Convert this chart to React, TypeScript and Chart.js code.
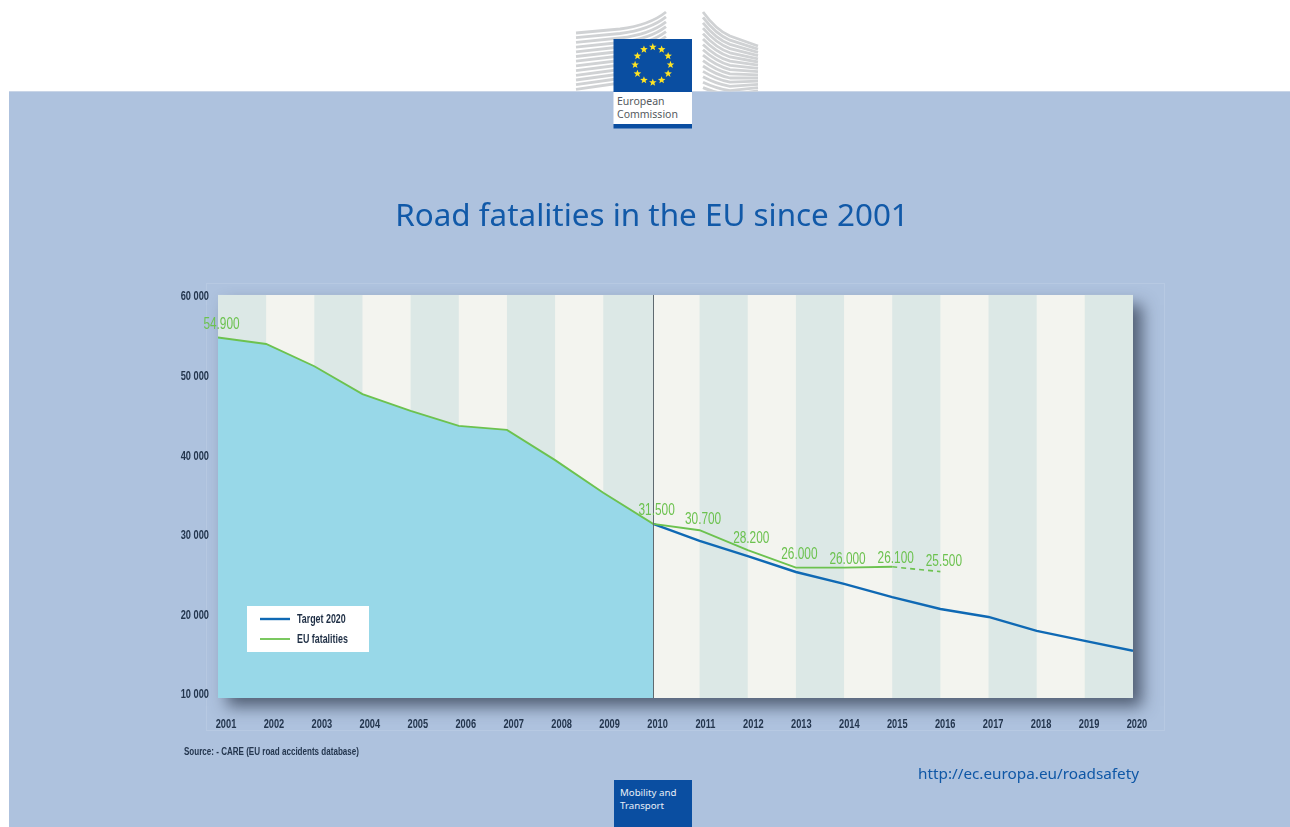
import React, { useEffect, useRef } from "react";
import { Chart, registerables } from "chart.js";

Chart.register(...registerables);

const years = [2001, 2002, 2003, 2004, 2005, 2006, 2007, 2008, 2009, 2010, 2011, 2012, 2013, 2014, 2015, 2016, 2017, 2018, 2019, 2020];
const yTicks = [10000, 20000, 30000, 40000, 50000, 60000];
const splitYear = 2010.035;
const areaYears = [2001, 2002, 2003, 2004, 2005, 2006, 2007, 2008, 2009, splitYear];
const areaValues = [54900, 54100, 51300, 47800, 45700, 43800, 43300, 39500, 35400, 31500];
const euYears = [2001, 2002, 2003, 2004, 2005, 2006, 2007, 2008, 2009, splitYear, 2011, 2012, 2013, 2014, 2015];
const euValues = [54900, 54100, 51300, 47800, 45700, 43800, 43300, 39500, 35400, 31500, 30700, 28200, 26000, 26000, 26100];
const provisionalYears = [2015, 2016];
const provisionalValues = [26100, 25500];
const targetYears = [splitYear, 2011, 2012, 2013, 2014, 2015, 2016, 2017, 2018, 2019, 2020];
const targetValues = [31500, 29350, 27450, 25450, 23950, 22300, 20800, 19800, 18050, 16800, 15550];
const labelYears = [2001, splitYear, 2011, 2012, 2013, 2014, 2015, 2016];
const labelValues = [54900, 31500, 30700, 28200, 26000, 26000, 26100, 25500];
const labelTexts = ["54.900", "31.500", "30.700", "28.200", "26.000", "26.000", "26.100", "25.500"];
const legendNames = ["Target 2020", "EU fatalities"];

const BLUE = "#0f69b4";
const GREEN = "#6cc24f";
const NARROW = "'Liberation Sans', sans-serif";
const SQUEEZE = 0.74;

const decor = {
  id: "decor",
  beforeInit(chart: any) {
    // The reference type is condensed: squeeze the narrow family horizontally.
    const ctx = chart.ctx;
    const orig = ctx.fillText.bind(ctx);
    ctx.fillText = (t: string, x: number, y: number, m?: number) => {
      if (!String(ctx.font).includes("Liberation Sans")) return orig(t, x, y, m);
      ctx.save();
      ctx.translate(x, y);
      ctx.scale(SQUEEZE, 1);
      orig(t, 0, 0);
      ctx.restore();
    };
  },
  beforeDatasetsDraw(chart: any) {
    const { ctx, chartArea: a, scales } = chart;
    const x = scales.x;
    ctx.save();
    ctx.shadowColor = "rgba(45,55,75,0.72)";
    ctx.shadowBlur = 15;
    ctx.shadowOffsetX = 9;
    ctx.shadowOffsetY = 9;
    ctx.fillStyle = "#f3f4ef";
    ctx.fillRect(a.left, a.top, a.right - a.left, a.bottom - a.top);
    ctx.restore();
    const edge = (v: number) => x.getPixelForValue(v === 2010 ? splitYear : v);
    for (let i = 0; i < years.length - 1; i += 2) {
      const l = edge(years[i]);
      const r = edge(years[i + 1]);
      ctx.fillStyle = "#dce8e6";
      ctx.fillRect(l, a.top, r - l, a.bottom - a.top);
    }
    const l = edge(2019);
    ctx.fillStyle = "#dce8e6";
    ctx.fillRect(l, a.top, a.right - l, a.bottom - a.top);
  },
  afterDatasetsDraw(chart: any) {
    const { ctx, chartArea: a, scales } = chart;
    const x = scales.x;
    const y = scales.y;
    const xSplit = Math.floor(x.getPixelForValue(splitYear)) + 0.5;
    ctx.save();
    ctx.strokeStyle = "#5f6a70";
    ctx.lineWidth = 1;
    ctx.beginPath();
    ctx.moveTo(xSplit, a.top);
    ctx.lineTo(xSplit, a.bottom);
    ctx.stroke();
    const lift = [12.5, 13.2, 10.5, 11.5, 13.5, 8.5, 8, 9.5];
    ctx.font = `16px ${NARROW}`;
    ctx.fillStyle = GREEN;
    ctx.textAlign = "center";
    ctx.textBaseline = "middle";
    labelTexts.forEach((t, i) => {
      const px = x.getPixelForValue(labelYears[i]);
      const py = y.getPixelForValue(labelValues[i]);
      ctx.fillText(t, px + 3.5, py - lift[i]);
    });
    ctx.fillStyle = "#ffffff";
    ctx.fillRect(247, 606, 122, 46);
    const styles: [string, number][] = [[BLUE, 2.4], [GREEN, 1.8]];
    legendNames.forEach((name, i) => {
      const ly = 619 + i * 20;
      ctx.strokeStyle = styles[i][0];
      ctx.lineWidth = styles[i][1];
      ctx.beginPath();
      ctx.moveTo(260, ly);
      ctx.lineTo(290, ly);
      ctx.stroke();
      ctx.fillStyle = "#1f2f45";
      ctx.font = `bold 12px ${NARROW}`;
      ctx.textAlign = "left";
      ctx.fillText(name, 297, ly + 0.5);
    });
    ctx.restore();
  },
};

function Logo() {
  const stars = Array.from({ length: 12 }, (_, i) => {
    const t = (i * Math.PI) / 6;
    return [652.8 + 17.7 * Math.sin(t), 64.8 - 17.7 * Math.cos(t)];
  });
  const star = (cx: number, cy: number, r: number) =>
    Array.from({ length: 10 }, (_, k) => {
      const t = (k * Math.PI) / 5;
      const rr = k % 2 ? r * 0.42 : r;
      return `${cx + rr * Math.sin(t)},${cy - rr * Math.cos(t)}`;
    }).join(" ");
  const leftRows = Array.from({ length: 13 }, (_, i) => i);
  const rightRows = Array.from({ length: 15 }, (_, i) => i);
  return (
    <svg width={1290} height={135} style={{ position: "absolute", left: 0, top: 0 }}>
      <defs>
        <clipPath id="above"><rect x={0} y={0} width={1290} height={91.5} /></clipPath>
      </defs>
      <g clipPath="url(#above)">
        {leftRows.map((i) => {
          const y0 = 33 + i * 4.7;
          const y1 = 12 + i * 4.9;
          return (
            <path key={i} d={`M576 ${y0} L620 ${y0 - 4 - i * 0.2} Q650 ${y0 - 8} 666 ${y1}`} stroke="#d0d2d4" strokeWidth={2.8} fill="none" />
          );
        })}
        {rightRows.map((i) => {
          const y0 = 12 + i * 5.4;
          const y1 = 46 + i * 3.2;
          return (
            <path key={i} d={`M703 ${y0} Q716 ${y0 + 18 - i * 0.9} 730 ${y0 + 24 - i * 1.2} L758 ${y1}`} stroke="#d0d2d4" strokeWidth={2.8} fill="none" />
          );
        })}
      </g>
      <rect x={613.5} y={39} width={78.5} height={53} fill="#0a4ea1" />
      <rect x={613.5} y={92} width={78.5} height={32} fill="#ffffff" />
      <rect x={613.5} y={124} width={78.5} height={4.5} fill="#0a4ea1" />
      {stars.map((s, i) => (
        <polygon key={i} points={star(s[0], s[1], 4)} fill="#ffe423" />
      ))}
      <text x={617} y={105} fontFamily="'Noto Sans', sans-serif" fontSize={10.5} fill="#555a60">European</text>
      <text x={617} y={118} fontFamily="'Noto Sans', sans-serif" fontSize={10.5} fill="#555a60">Commission</text>
    </svg>
  );
}

export default function App() {
  const ref = useRef<HTMLCanvasElement>(null);
  useEffect(() => {
    const chart = new Chart(ref.current as HTMLCanvasElement, {
      type: "line",
      data: {
        datasets: [
          { label: "EU fatalities (provisional)", data: provisionalYears.map((v, i) => ({ x: v, y: provisionalValues[i] })), borderColor: GREEN, borderWidth: 1.6, borderDash: [5, 4], pointRadius: 0, fill: false },
          { label: "EU fatalities", data: euYears.map((v, i) => ({ x: v, y: euValues[i] })), borderColor: GREEN, borderWidth: 1.9, pointRadius: 0, fill: false },
          { label: "Target 2020", data: targetYears.map((v, i) => ({ x: v, y: targetValues[i] })), borderColor: BLUE, borderWidth: 2.4, pointRadius: 0, fill: false },
          { label: "EU fatalities area", data: areaYears.map((v, i) => ({ x: v, y: areaValues[i] })), borderWidth: 0, backgroundColor: "#98d8e8", fill: "start", pointRadius: 0 },
        ],
      } as any,
      plugins: [decor],
      options: {
        animation: false,
        responsive: false,
        layout: { padding: { left: 14, right: 0, top: 0, bottom: 0 } },
        plugins: {
          legend: { display: false },
          tooltip: { enabled: false },
          title: {
            display: true,
            text: "Road fatalities in the EU since 2001",
            color: "#1159a8",
            font: { family: "'Noto Sans', sans-serif", size: 31.4, weight: "normal", lineHeight: 1.2 },
            padding: { top: 198, bottom: 59.3 },
          },
        },
        scales: {
          x: { type: "linear", display: false, min: 2001, max: 2020 },
          xLabels: {
            type: "linear",
            position: "bottom",
            min: 2000.833,
            max: 2019.917,
            afterBuildTicks: (s: any) => { s.ticks = years.map((v) => ({ value: v })); },
            afterFit: (s: any) => { s.height = 129; },
            grid: { display: false },
            border: { display: false },
            ticks: {
              autoSkip: false,
              maxRotation: 0,
              padding: 11,
              color: "#24364e",
              font: { family: NARROW, size: 12.5, weight: "bold" },
              callback: (v: any) => String(v),
            },
          },
          y: {
            min: 9620,
            max: 60250,
            afterBuildTicks: (s: any) => { s.ticks = yTicks.map((v) => ({ value: v })); },
            afterFit: (s: any) => { s.width = 204; },
            grid: { display: false },
            border: { display: false },
            ticks: {
              padding: 1,
              color: "#24364e",
              font: { family: NARROW, size: 12.5, weight: "bold" },
              callback: (v: any) => String(v).replace(/(\d+)(\d{3})$/, "$1 $2"),
            },
          },
          gutter: {
            position: "right",
            afterFit: (s: any) => { s.width = 157; },
            grid: { display: false },
            border: { display: false },
            ticks: { display: false },
          },
        },
      } as any,
    });
    return () => chart.destroy();
  }, []);

  return (
    <div style={{ position: "fixed", left: 0, top: 0, width: 1290, height: 827, background: "#ffffff", overflow: "hidden", fontFamily: "'Noto Sans', sans-serif" }}>
      <div style={{ position: "absolute", left: 9, right: 0, top: 91, bottom: 0, background: "#aec2de", borderTop: "1px solid #c9d5e7" }} />
      <div style={{ position: "absolute", left: 206, top: 283, width: 959, height: 448, border: "1px solid #b7c9e2", boxSizing: "border-box" }} />
      <Logo />
      <canvas ref={ref} width={1290} height={827} style={{ position: "absolute", left: 0, top: 0 }} />
      <div style={{ position: "absolute", left: 184, top: 745, fontFamily: NARROW, fontWeight: 700, fontSize: 11.5, color: "#24364e", whiteSpace: "nowrap", transform: "scaleX(0.70)", transformOrigin: "left center" }}>Source: - CARE (EU road accidents database)</div>
      <div style={{ position: "absolute", left: 918, top: 763, fontSize: 15.3, color: "#0f57a6", whiteSpace: "nowrap" }}>http://ec.europa.eu/roadsafety</div>
      <div style={{ position: "absolute", left: 613.5, top: 780, width: 78.5, height: 47, background: "#0a4ea1", color: "#e8eef8", fontSize: 9.7, lineHeight: "13px", padding: "6px 0 0 6.5px", boxSizing: "border-box" }}>Mobility and<br />Transport</div>
    </div>
  );
}
